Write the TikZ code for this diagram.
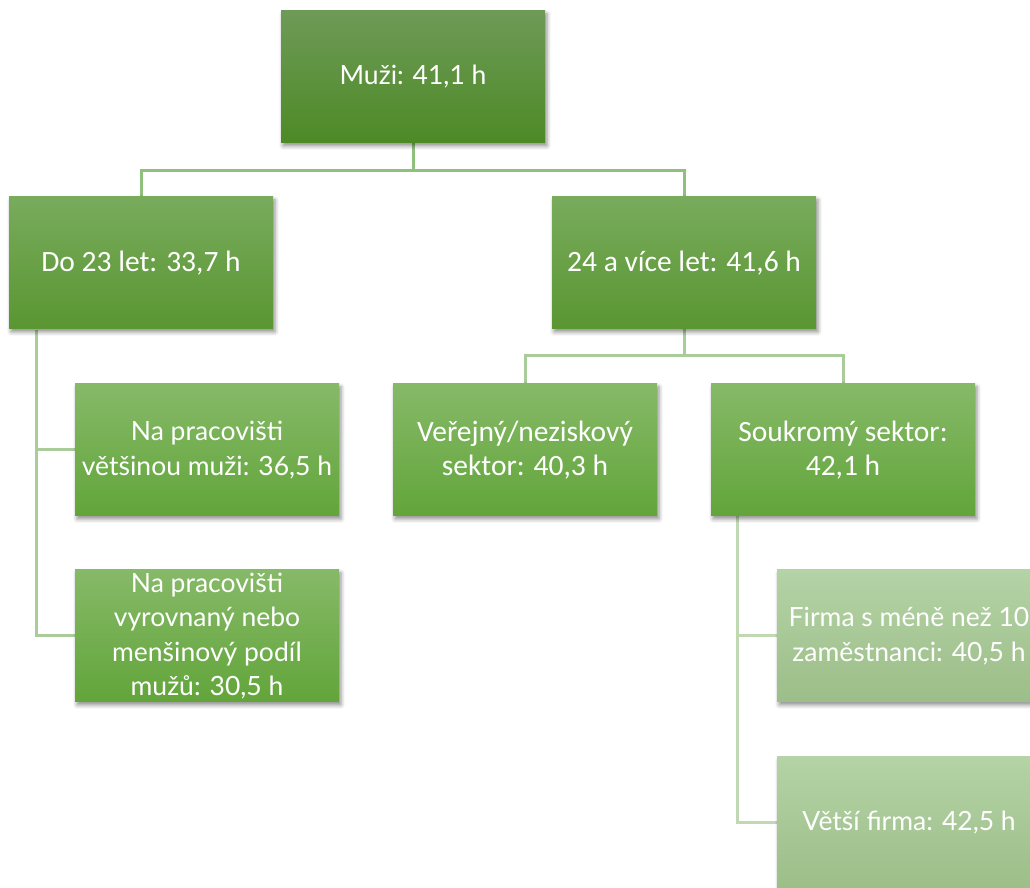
\documentclass[tikz,border=0pt]{standalone}
\usepackage{fontspec}
\setmainfont{Lato}
\newfontfamily\nunfont{Lato}
\newfontfamily\calfont{Carlito}
\usetikzlibrary{shadows.blur,backgrounds}
\definecolor{lzt}{HTML}{6E9A57}\definecolor{lzb}{HTML}{4D8A26}
\definecolor{lot}{HTML}{78AB5C}\definecolor{lob}{HTML}{5A9632}
\definecolor{ltt}{HTML}{86B968}\definecolor{ltb}{HTML}{62A53A}
\definecolor{lht}{HTML}{B4D3A6}\definecolor{lhb}{HTML}{9CBE88}
\definecolor{cone}{HTML}{8FC17C}\definecolor{ctwo}{HTML}{AACC9A}\definecolor{cthree}{HTML}{C0D9B2}
\tikzset{
  x=1pt,y=1pt,
  box/.style={rectangle, minimum width=264pt, minimum height=132pt, inner sep=0pt,
     text=white, align=center, font=\nunfont\fontsize{26.5}{34.5}\selectfont,
     blur shadow={shadow xshift=2pt, shadow yshift=-3pt, shadow blur radius=4pt, shadow opacity=45}},
  calbox/.style={font=\calfont\fontsize{29.5}{34}\selectfont},
  lzero/.style={box, top color=lzt, bottom color=lzb},
  lone/.style={box, top color=lot, bottom color=lob},
  ltwo/.style={box, top color=ltt, bottom color=ltb},
  lthree/.style={box, top color=lht, bottom color=lhb},
  conone/.style={draw=cone, line width=3pt},
  contwo/.style={draw=ctwo, line width=3pt},
  conthree/.style={draw=cthree, line width=3pt},
}
\begin{document}
\begin{tikzpicture}
\useasboundingbox (0,0) rectangle (1030,888);
\clip (0,0) rectangle (1030,888);
\node[lzero] (m) at (413,811) {Muži: 41,1 h};
\node[lone, calbox] (d) at (141,625) {Do 23 let: 33,7 h};
\node[lone, calbox] (a) at (684,625) {24 a více let: 41,6 h};
\node[ltwo] (na) at (207,438) {Na pracovišti\\většinou muži: 36,5 h};
\node[ltwo] (nb) at (207,252) {Na pracovišti\\vyrovnaný nebo\\menšinový podíl\\mužů: 30,5 h};
\node[ltwo, calbox] (v) at (525,438) {Veřejný/neziskový\\sektor: 40,3 h};
\node[ltwo, calbox] (s) at (843,438) {Soukromý sektor:\\42,1 h};
\node[lthree] (f) at (909,252) {Firma s méně než 10\\zaměstnanci: 40,5 h};
\node[lthree] (g) at (909,65) {Větší firma: 42,5 h};
\coordinate (dl) at (36,558);
\coordinate (sl) at (737,372);
\begin{scope}[on background layer]
\draw[conone] (m.south) -- ++(0,-27) -| (d.north);
\draw[conone] (m.south) -- ++(0,-27) -| (a.north);
\draw[contwo] (a.south) -- ++(0,-26) -| (v.north);
\draw[contwo] (a.south) -- ++(0,-26) -| (s.north);
\draw[contwo] (dl) |- (na.west);
\draw[contwo] (dl) |- (nb.west);
\draw[conthree] (sl) |- (f.west);
\draw[conthree] (sl) |- (g.west);
\end{scope}
\end{tikzpicture}
\end{document}
